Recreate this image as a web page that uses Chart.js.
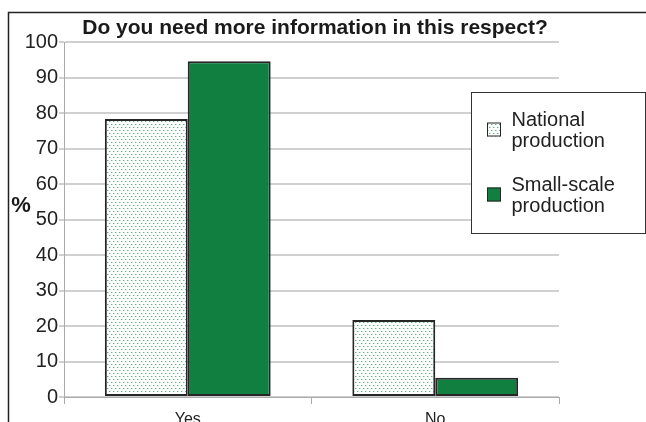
<!DOCTYPE html>
<html lang="en">
  <head>
    <meta charset="UTF-8" />
    <title>Do you need more information in this respect?</title>
    <script src="https://cdn.jsdelivr.net/npm/chart.js"></script>
    <style>
      html,
      body {
        margin: 0;
        padding: 0;
        background: #fff;
        overflow: hidden;
      }
      #wrap {
        width: 646px;
        height: 440px;
      }
    </style>
  </head>
  <body>
    <div id="wrap">
      <canvas id="infoChart" width="646" height="440"></canvas>
    </div>

    <script>
      // Survey answers, percent of respondents
      const chartTitle = "Do you need more information in this respect?";
      const answers = ["Yes", "No"];
      const seriesNames = ["National production", "Small-scale production"];
      const nationalValues = [78.3, 21.7];
      const smallScaleValues = [94.6, 5.4];
      const yTicks = [0, 10, 20, 30, 40, 50, 60, 70, 80, 90, 100];

      const FONT = "'Liberation Sans', Arial, sans-serif";
      const GREEN = "#107f40";
      const OUTLINE = "#262626";

      // dotted fill for the national series
      function dotPattern() {
        const c = document.createElement("canvas");
        c.width = 4;
        c.height = 6;
        const g = c.getContext("2d");
        g.fillStyle = "#fbfefc";
        g.fillRect(0, 0, 4, 6);
        g.fillStyle = "#4dbb7b";
        g.fillRect(1, 1, 1, 1);
        g.fillRect(3, 4, 1, 1);
        g.fillStyle = "#b9e4ca";
        g.fillRect(2, 1, 1, 1);
        g.fillRect(0, 4, 1, 1);
        return g.createPattern(c, "repeat");
      }
      const dots = dotPattern();

      // frame, title, "%" label and the boxed legend
      const decorations = {
        id: "decorations",
        afterDraw(chart) {
          const ctx = chart.ctx;
          ctx.save();

          ctx.strokeStyle = "#222";
          ctx.lineWidth = 1.5;
          ctx.beginPath();
          ctx.moveTo(8.5, 440);
          ctx.lineTo(8.5, 12.5);
          ctx.lineTo(646, 12.5);
          ctx.stroke();

          ctx.fillStyle = "#1a1a1a";
          ctx.font = "bold 21px " + FONT;
          ctx.textAlign = "center";
          ctx.textBaseline = "alphabetic";
          ctx.fillText(chartTitle, 315, 33.5);

          ctx.font = "bold 22px " + FONT;
          ctx.fillText("%", 21, 212);

          // legend box
          const bx = 471.5,
            by = 92.5,
            bw = 174,
            bh = 141;
          ctx.fillStyle = "#fff";
          ctx.fillRect(bx, by, bw, bh);
          ctx.strokeStyle = "#333";
          ctx.lineWidth = 1;
          ctx.strokeRect(bx, by, bw, bh);

          ctx.font = "20px " + FONT;
          ctx.textAlign = "left";
          chart.data.datasets.forEach((ds, i) => {
            const sy = 122.5 + i * 65;
            ctx.fillStyle = ds.backgroundColor;
            ctx.fillRect(487, sy, 14, 14);
            ctx.strokeStyle = OUTLINE;
            ctx.lineWidth = 1;
            ctx.strokeRect(487.5, sy + 0.5, 13, 13);
            ctx.fillStyle = "#222";
            const words = ds.label.split(" ");
            words.forEach((w, k) => {
              ctx.fillText(w, 511.5, sy + 3 + k * 21);
            });
          });

          ctx.restore();
        },
      };

      new Chart(document.getElementById("infoChart"), {
        type: "bar",
        data: {
          labels: answers,
          datasets: [
            {
              label: seriesNames[0],
              data: nationalValues,
              backgroundColor: dots,
            },
            {
              label: seriesNames[1],
              data: smallScaleValues,
              backgroundColor: GREEN,
            },
          ],
        },
        options: {
          responsive: false,
          animation: false,
          events: [],
          layout: {
            padding: { left: 0, right: 87, top: 42, bottom: 0 },
          },
          datasets: {
            bar: {
              categoryPercentage: 0.67,
              barPercentage: 1.0,
              borderColor: OUTLINE,
              borderWidth: 2,
              borderSkipped: false,
            },
          },
          plugins: {
            legend: { display: false },
            title: { display: false },
            tooltip: { enabled: false },
          },
          scales: {
            x: {
              grid: {
                offset: true,
                drawOnChartArea: false,
                drawTicks: true,
                tickLength: 7,
                color: "#aaa",
              },
              border: { color: "#aaa", width: 1 },
              ticks: {
                color: "#222",
                font: { family: FONT, size: 16 },
                padding: 6,
              },
              afterFit(scale) {
                scale.height = 43;
              },
            },
            y: {
              min: 0,
              max: 100,
              afterBuildTicks(scale) {
                scale.ticks = yTicks.map((v) => ({ value: v }));
              },
              grid: {
                color: "#d0d0d0",
                lineWidth: 2,
                tickLength: 5,
              },
              border: { color: "#aaa", width: 1 },
              ticks: {
                color: "#222",
                font: { family: FONT, size: 20 },
                padding: 1,
              },
              afterFit(scale) {
                scale.width = 64;
              },
            },
          },
        },
        plugins: [decorations],
      });
    </script>
  </body>
</html>
